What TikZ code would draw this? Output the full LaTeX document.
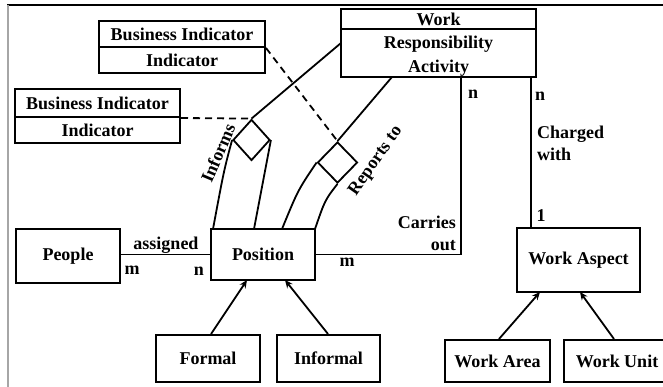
\documentclass[tikz,border=0pt]{standalone}
\usepackage{fontspec}
\setmainfont{Liberation Serif}
\usetikzlibrary{arrows.meta,shapes.geometric}

\begin{document}
\begin{tikzpicture}[x=1pt,y=-1pt,
  every node/.style={font=\fontsize{18}{21}\selectfont\bfseries},
  box/.style={draw,line width=2pt,rectangle,inner sep=0pt,align=center},
  rel/.style={draw,line width=1.8pt,diamond,inner sep=0pt},
  link/.style={line width=1.8pt},
  dashlink/.style={line width=1.8pt,dash pattern=on 7pt off 5pt},
  isa/.style={line width=1.8pt,-{Stealth[length=8pt,width=7pt]}},
  lbl/.style={inner sep=0pt}
]
\useasboundingbox (0,0) rectangle (663,387);

% outer frame (top and left edges)
\draw[line width=2pt] (7,5) -- (663,5);
\draw[line width=2pt,gray!70] (8,5) -- (8,387);

% class boxes with a header compartment
\node[box,minimum width=195pt,minimum height=20pt] (workhead) at (438.5,19) {Work};
\node[box,minimum width=195pt,minimum height=48pt] (workbody) at (438.5,53) {};
\node[lbl,align=center,font=\fontsize{18}{24.5}\selectfont\bfseries] (worktext) at (workbody.center) [yshift=-3pt] {Responsibility\\Activity};

\node[box,minimum width=166pt,minimum height=26pt] (bi1head) at (182,34) {Business Indicator};
\node[box,minimum width=166pt,minimum height=26pt] (bi1body) at (182,60) {Indicator};

\node[box,minimum width=165pt,minimum height=28pt] (bi2head) at (97.5,103) {Business Indicator};
\node[box,minimum width=165pt,minimum height=26pt] (bi2body) at (97.5,130) {Indicator};

% plain entity boxes
\node[box,minimum width=104pt,minimum height=54pt] (people) at (68,256) {People};
\node[box,minimum width=104pt,minimum height=51pt] (position) at (263,254.5) {Position};
\node[box,minimum width=123pt,minimum height=63pt] (aspect) at (578.5,260) {Work Aspect};
\node[box,minimum width=104pt,minimum height=47pt] (formal) at (208,358.5) {Formal};
\node[box,minimum width=103pt,minimum height=47pt] (informal) at (328.5,358.5) {Informal};
\node[box,minimum width=105pt,minimum height=42pt] (warea) at (497.5,361) {Work Area};
\node[box,minimum width=106pt,minimum height=42pt] (wunit) at (617,361) {Work Unit};

% association diamonds
\node[rel,minimum width=37pt,minimum height=41pt] (informs) at (251.5,140) {};
\node[rel,minimum width=40pt,minimum height=41pt] (reports) at (337.5,162.5) {};

% named end points on the Work box and the Position box
\coordinate (workInf) at (341,43);
\coordinate (workRep) at (392,77);
\coordinate (workCar) at (461,77);
\coordinate (workChg) at (531,77);
\coordinate (posA) at (213,229);
\coordinate (posB) at (254,229);
\coordinate (posC) at (282,229);
\coordinate (posD) at (315,229);

% Informs association
\draw[link] (workInf) -- (informs.north);
\draw[link] (informs.west) .. controls (224,170) .. (posA);
\draw[link] (informs.east) -- (posB);
\node[lbl,rotate=67] at (218,153) {Informs};

% Reports to association
\draw[link] (workRep) -- (reports.north);
\draw[link] (reports.west) .. controls (298,190) .. (posC);
\draw[link] (reports.south) .. controls (325,200) .. (posD);
\node[lbl,rotate=55] at (376,161) {Reports to};

% dashed links to the indicator classes
\draw[dashlink] (bi2head.south east) -- (informs.north);
\draw[dashlink] (bi1head.south east) -- (reports.north);

% People assigned to Position
\draw[link] (position.west) -- (position.west -| people.east);
\node[lbl] at (166,245) {assigned};
\node[lbl] at (132,270) {m};
\node[lbl] at (199,271) {n};

% Position carries out Work
\draw[link] (position.east) -| (workCar);
\node[lbl] at (347,262) {m};
\node[lbl,anchor=east] at (456,222) {Carries};
\node[lbl,anchor=east] at (456,246) {out};
\node[lbl] at (473,94) {n};

% Work charged with Work Aspect
\draw[link] (workChg) -- (workChg |- aspect.north);
\node[lbl] at (540,96) {n};
\node[lbl,anchor=west,align=left,font=\fontsize{18}{22}\selectfont\bfseries] at (537,143) {Charged\\with};
\node[lbl] at (541,216) {1};

% specialisations
\draw[isa] (formal.north -| 211,0) -- (247,280);
\draw[isa] (informal.north -| 328,0) -- (285,280);
\draw[isa] (warea.north -| 499,0) -- (540,292);
\draw[isa] (wunit.north -| 614,0) -- (580,292);
\end{tikzpicture}
\end{document}
